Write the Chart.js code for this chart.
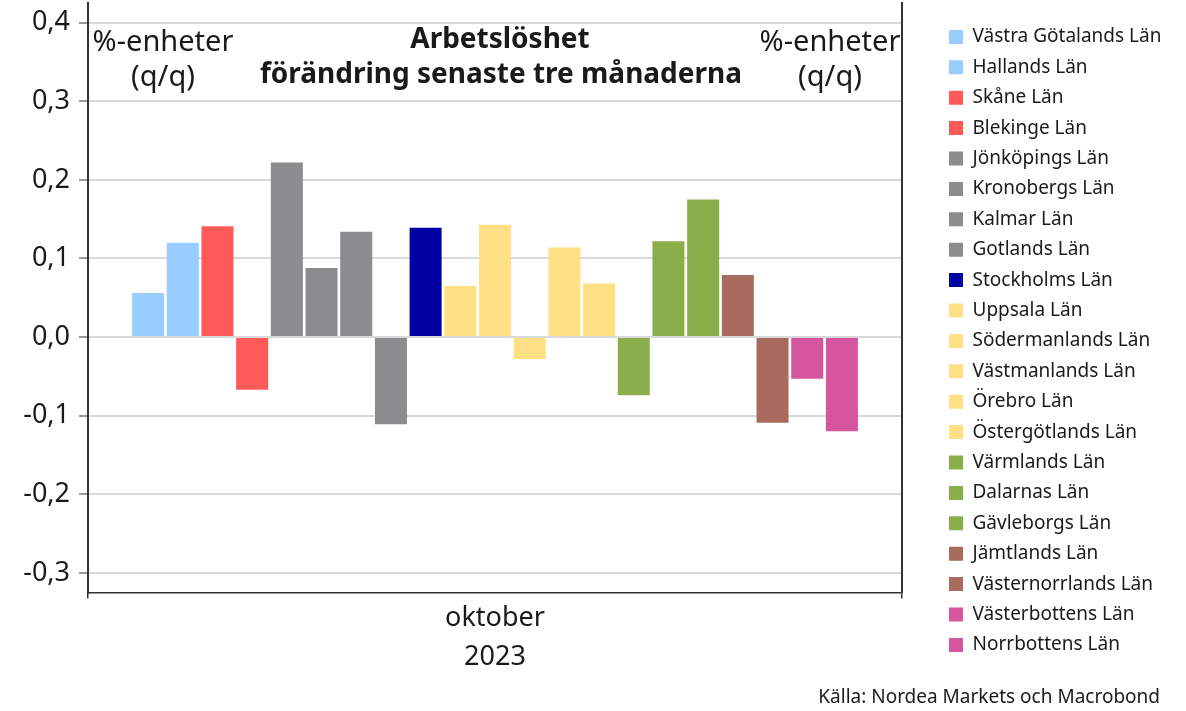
<!DOCTYPE html>
<html>
<head>
<meta charset="utf-8">
<script src="https://cdn.jsdelivr.net/npm/chart.js@4.4.1/dist/chart.umd.min.js"></script>
<style>
  html, body { margin: 0; padding: 0; background: #fff; }
  #wrap { width: 1186px; height: 711px; }
</style>
</head>
<body>
<div id="wrap"><canvas id="chart"></canvas></div>
<script>
// =====================
// Data
// =====================
const categories = [["oktober", "2023"]];
const regions = [
  "Västra Götalands Län", "Hallands Län", "Skåne Län", "Blekinge Län",
  "Jönköpings Län", "Kronobergs Län", "Kalmar Län", "Gotlands Län",
  "Stockholms Län", "Uppsala Län", "Södermanlands Län", "Västmanlands Län",
  "Örebro Län", "Östergötlands Län", "Värmlands Län", "Dalarnas Län",
  "Gävleborgs Län", "Jämtlands Län", "Västernorrlands Län", "Västerbottens Län",
  "Norrbottens Län"
];
const values = [
  0.056, 0.120, 0.141, -0.067,
  0.222, 0.088, 0.134, -0.111,
  0.139, 0.065, 0.143, -0.028,
  0.114, 0.068, -0.074, 0.122,
  0.175, 0.079, -0.109, -0.053,
  -0.120
];
const colors = [
  "#99ccff", "#99ccff", "#ff5a5a", "#ff5a5a",
  "#8b8c8e", "#8b8c8e", "#8b8c8e", "#8b8c8e",
  "#0000a3", "#ffe084", "#ffe084", "#ffe084",
  "#ffe084", "#ffe084", "#8bae4b", "#8bae4b",
  "#8bae4b", "#a86b5e", "#a86b5e", "#d5559f",
  "#d5559f"
];
const yTicks = [0.4, 0.3, 0.2, 0.1, 0, -0.1, -0.2, -0.3];

const textColor = "#1a1a1a";
const fontFamily = "'Noto Sans', sans-serif";
Chart.defaults.font.family = fontFamily;
Chart.defaults.color = textColor;

// legend sizing: measure the widest label so the legend lands where it should
const legendFont = 19;
const legendPad = 11.4;
const legendLeft = 937.6;
const measure = document.createElement("canvas").getContext("2d");
measure.font = legendFont + "px " + fontFamily;
const widest = Math.max(...regions.map(r => measure.measureText(r).width));
const legendWidth = legendPad + 14 + legendFont / 2 + widest + 10;
const padRight = Math.max(0, 1186 - legendLeft - legendWidth);

// =====================
// Texts inside the plot
// =====================
const notes = {
  id: "notes",
  afterDraw(chart) {
    const ctx = chart.ctx;
    ctx.save();
    ctx.fillStyle = textColor;
    ctx.textAlign = "center";
    ctx.textBaseline = "middle";

    ctx.font = "29px " + fontFamily;
    ctx.fillText("%-enheter", 163, 43);
    ctx.fillText("(q/q)", 163, 78);
    ctx.fillText("%-enheter", 830, 43);
    ctx.fillText("(q/q)", 830, 78);

    ctx.font = "bold 28px " + fontFamily;
    ctx.fillText("Arbetslöshet", 500, 40);
    ctx.fillText("förändring senaste tre månaderna", 501, 75);

    ctx.font = "19px " + fontFamily;
    ctx.textAlign = "right";
    ctx.fillText("Källa: Nordea Markets och Macrobond", 1160, 698);
    ctx.restore();
  }
};

// =====================
// Chart
// =====================
const datasets = regions.map((name, i) => ({
  label: name,
  data: [values[i]],
  backgroundColor: colors[i],
  borderWidth: 0,
  categoryPercentage: 0.895,
  barPercentage: 0.923
}));

new Chart(document.getElementById("chart"), {
  type: "bar",
  data: { labels: categories, datasets: datasets },
  plugins: [notes],
  options: {
    responsive: true,
    maintainAspectRatio: false,
    animation: false,
    layout: { padding: { top: 3, right: padRight, bottom: 0, left: 0 } },
    plugins: {
      tooltip: { enabled: false },
      legend: {
        position: "right",
        align: "start",
        maxWidth: 400,
        title: { display: true, text: "", padding: 0, font: { size: 13, lineHeight: 1 } },
        labels: {
          boxWidth: 14,
          boxHeight: 14,
          padding: legendPad,
          color: textColor,
          font: { size: legendFont }
        }
      }
    },
    scales: {
      x: {
        afterFit: s => { s.height = 118.5; },
        ticks: { font: { size: 27, lineHeight: 1.44 }, color: textColor, padding: 0 },
        grid: { drawOnChartArea: false, tickLength: 6, color: "#333", lineWidth: 1.5 },
        border: { color: "#333", width: 1.5 }
      },
      y: {
        min: -0.325,
        max: 0.425,
        afterFit: s => { s.width = 88; s.paddingTop = 0; s.paddingBottom = 0; },
        afterBuildTicks: s => { s.ticks = yTicks.map(v => ({ value: v })); },
        ticks: {
          font: { size: 27 },
          color: textColor,
          padding: 9,
          callback: v => v.toFixed(1).replace(".", ",")
        },
        grid: { color: "#d9d9d9", lineWidth: 2, tickLength: 9, tickColor: "#999" },
        border: { color: "#333", width: 2 }
      },
      y2: {
        position: "right",
        display: true,
        min: -0.325,
        max: 0.425,
        afterFit: s => { s.width = 35.6; s.paddingTop = 0; s.paddingBottom = 0; },
        ticks: { display: false },
        grid: { display: false },
        border: { display: true, color: "#333", width: 2 }
      }
    }
  }
});
</script>
</body>
</html>
